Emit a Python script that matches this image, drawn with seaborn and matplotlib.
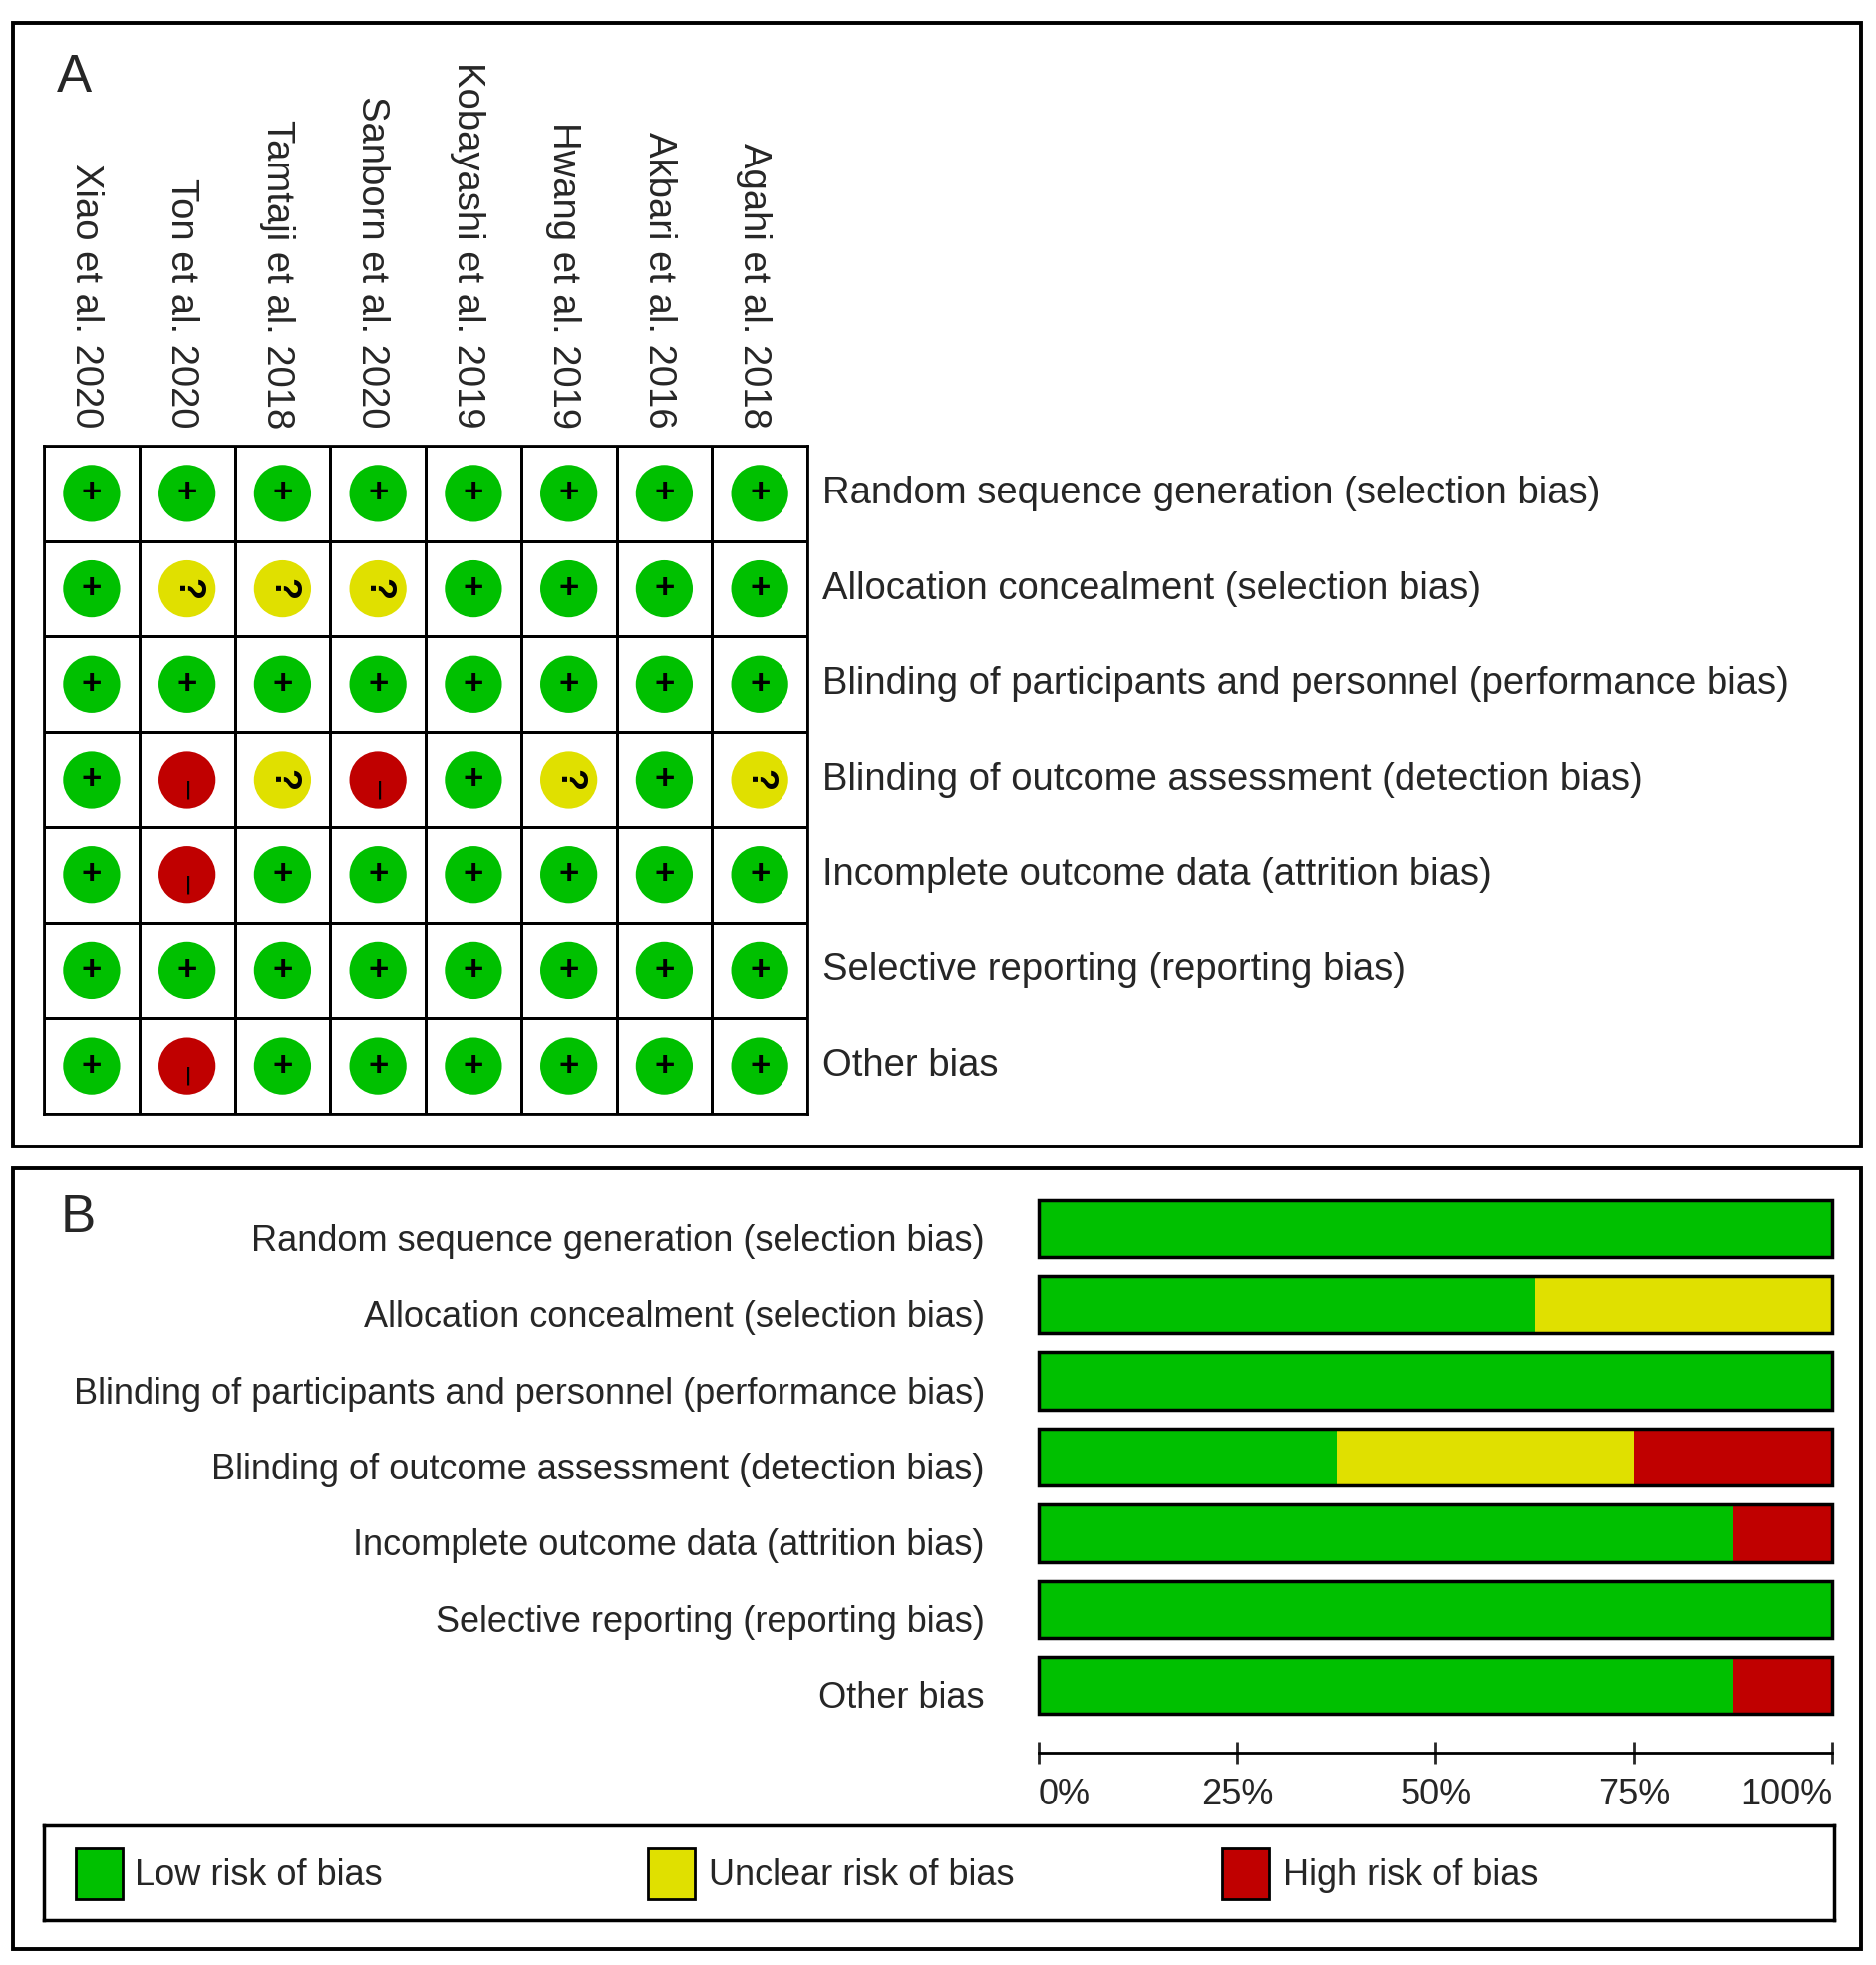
import numpy as np
import pandas as pd
import matplotlib
matplotlib.use("Agg")
import matplotlib.pyplot as plt
from matplotlib.colors import ListedColormap
from matplotlib.patches import Rectangle
import matplotlib.transforms as mtransforms
import seaborn as sns

# Estudios y dominios de riesgo de sesgo
studies = ["Xiao et al. 2020", "Ton et al. 2020", "Tamtaji et al. 2018",
           "Sanborn et al. 2020", "Kobayashi et al. 2019", "Hwang et al. 2019",
           "Akbari et al. 2016", "Agahi et al. 2018"]
domains = ["Random sequence generation (selection bias)",
           "Allocation concealment (selection bias)",
           "Blinding of participants and personnel (performance bias)",
           "Blinding of outcome assessment (detection bias)",
           "Incomplete outcome data (attrition bias)",
           "Selective reporting (reporting bias)",
           "Other bias"]

# Juicio por dominio (filas) y estudio (columnas): + bajo, ? incierto, - alto
random_seq = ["+", "+", "+", "+", "+", "+", "+", "+"]
allocation = ["+", "?", "?", "?", "+", "+", "+", "+"]
blind_part = ["+", "+", "+", "+", "+", "+", "+", "+"]
blind_outc = ["+", "-", "?", "-", "+", "?", "+", "?"]
incomplete = ["+", "-", "+", "+", "+", "+", "+", "+"]
selective = ["+", "+", "+", "+", "+", "+", "+", "+"]
other_bias = ["+", "-", "+", "+", "+", "+", "+", "+"]
judgments = [random_seq, allocation, blind_part, blind_outc,
             incomplete, selective, other_bias]

legend_labels = ["Low risk of bias", "Unclear risk of bias", "High risk of bias"]
tick_labels = ["0%", "25%", "50%", "75%", "100%"]

GREEN, YELLOW, RED = "#00c000", "#e0e000", "#c00000"
colors = {"+": GREEN, "?": YELLOW, "-": RED}

sns.set_style("white")
plt.rcParams['font.family'] = ['Liberation Sans', 'DejaVu Sans']

fig = plt.figure(figsize=(18.82, 19.71), dpi=100)

# ---------------- Panel A: tabla de juicios ----------------
axA = fig.add_axes([0.0234, 0.4333, 0.4070, 0.3399])
grid = np.zeros((len(domains), len(studies)))
sns.heatmap(grid, cmap=ListedColormap(["white"]), cbar=False,
            linewidths=2, linecolor="black", ax=axA)
for s in axA.spines.values():
    s.set_visible(True)
    s.set_linewidth(2)
    s.set_color("black")
axA.set_xticks([])
axA.set_yticks([])

rows = []
for i, d in enumerate(domains):
    for j, st in enumerate(studies):
        rows.append({"study": st, "domain": d, "x": j + 0.5, "y": i + 0.5,
                     "judgment": judgments[i][j]})
long_df = pd.DataFrame(rows)

sns.scatterplot(data=long_df, x="x", y="y", hue="judgment", palette=colors,
                s=1700, edgecolor="none", legend=False, ax=axA)
axA.set_xlim(0, len(studies))
axA.set_ylim(len(domains), 0)
axA.set_xlabel("")
axA.set_ylabel("")

for _, r in long_df.iterrows():
    if r["judgment"] == "+":
        axA.text(r["x"], r["y"], "+", ha="center", va="center",
                 fontsize=25, fontweight="bold", color="black")
    elif r["judgment"] == "?":
        axA.text(r["x"], r["y"], "?", ha="center", va="center",
                 fontsize=26, fontweight="bold", rotation=270, color="black")
    else:
        axA.text(r["x"] + 0.01, r["y"] + 0.1, "\u2013", ha="center", va="center",
                 fontsize=24, rotation=270, color="black")

for j, st in enumerate(studies):
    axA.text(j + 0.44, -0.18, st, rotation=270, ha="center", va="bottom",
             fontsize=27.5, clip_on=False)
for i, d in enumerate(domains):
    axA.text(8.16, i + 0.5, d, ha="left", va="center", fontsize=27.5,
             clip_on=False)

fig.text(0.030, 0.9605, "A", fontsize=38, ha="left", va="center")

# ---------------- Panel B: porcentajes por dominio ----------------
counts = pd.DataFrame({
    "domain": domains,
    "low": [row.count("+") for row in judgments],
    "unclear": [row.count("?") for row in judgments],
    "high": [row.count("-") for row in judgments],
})
n = len(studies)
counts["p_low"] = counts["low"] / n * 100
counts["p_low_unc"] = (counts["low"] + counts["unclear"]) / n * 100
counts["p_all"] = (counts["low"] + counts["unclear"] + counts["high"]) / n * 100

axB = fig.add_axes([0.5537, 0.1228, 0.4230, 0.2714])
sns.barplot(data=counts, x="p_all", y="domain", color=RED, width=0.75,
            linewidth=0, saturation=1, ax=axB)
sns.barplot(data=counts, x="p_low_unc", y="domain", color=YELLOW, width=0.75,
            linewidth=0, saturation=1, ax=axB)
sns.barplot(data=counts, x="p_low", y="domain", color=GREEN, width=0.75,
            linewidth=0, saturation=1, ax=axB)
sns.barplot(data=counts, x="p_all", y="domain", fill=False, edgecolor="black",
            width=0.75, linewidth=2.5, ax=axB)
for p in axB.patches:
    p.set_clip_on(False)

sns.despine(ax=axB, left=True, top=True, right=True)
axB.spines["bottom"].set_position(("outward", 21))
axB.spines["bottom"].set_linewidth(2)
axB.spines["bottom"].set_color("black")

axB.set_xlim(0, 100)
axB.set_xticks([0, 25, 50, 75, 100])
axB.set_xticklabels(tick_labels, fontsize=26)
labs = axB.get_xticklabels()
labs[0].set_ha("left")
labs[-1].set_ha("right")
axB.set_xlabel("")
axB.set_ylabel("")
axB.tick_params(axis="x", direction="inout", length=16, width=2, pad=10,
                bottom=True)

# Etiquetas de dominio a la izquierda, un poco por debajo del centro
axB.set_yticks([])
ytrans = mtransforms.blended_transform_factory(axB.transAxes, axB.transData)
for i, d in enumerate(domains):
    axB.text(-0.068, i + 0.17, d, transform=ytrans, ha="right", va="center",
             fontsize=26, clip_on=False)

fig.text(0.032, 0.380, "B", fontsize=38, ha="left", va="center")

# ---------------- Leyenda ----------------
axL = fig.add_axes([0.0234, 0.0228, 0.9543, 0.0482])
axL.set_xlim(0, 1)
axL.set_ylim(0, 1)
axL.set_xticks([])
axL.set_yticks([])
for s in axL.spines.values():
    s.set_visible(True)
    s.set_linewidth(2.5)
    s.set_color("black")
for xs, xt, c, lab in zip([0.0178, 0.3374, 0.658], [0.0507, 0.3714, 0.692],
                          [GREEN, YELLOW, RED], legend_labels):
    axL.add_patch(Rectangle((xs, 0.22), 0.0262, 0.54, facecolor=c,
                            edgecolor="black", linewidth=2))
    axL.text(xt, 0.47, lab, ha="left", va="center", fontsize=26)

# Marcos de los paneles
fig.add_artist(Rectangle((0.0069, 0.4165), 0.9851, 0.5718, transform=fig.transFigure,
                         fill=False, linewidth=2.8, edgecolor="black"))
fig.add_artist(Rectangle((0.0069, 0.0081), 0.9851, 0.3973, transform=fig.transFigure,
                         fill=False, linewidth=2.8, edgecolor="black"))

fig.savefig("out.png", dpi=100, facecolor="white")
